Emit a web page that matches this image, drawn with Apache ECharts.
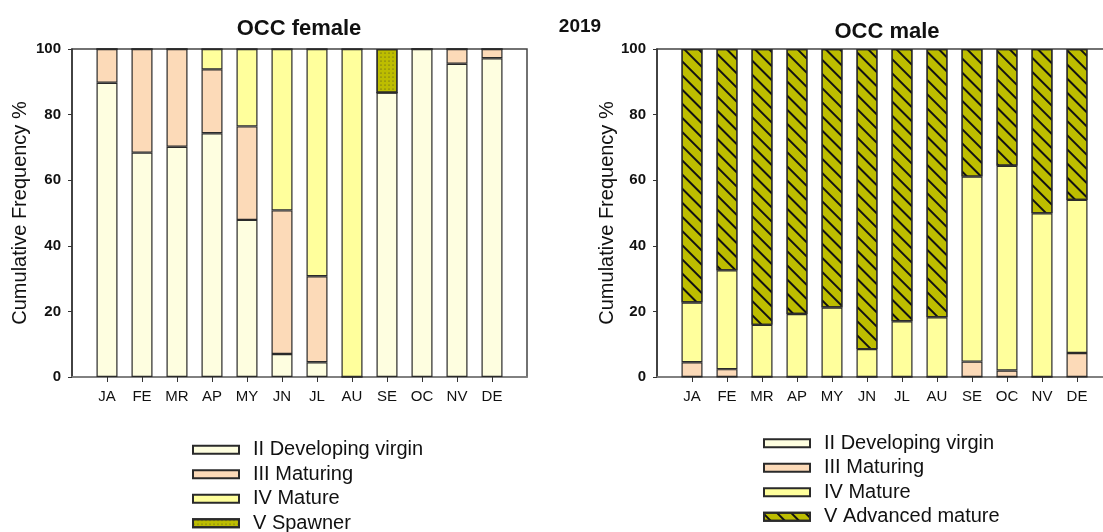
<!DOCTYPE html>
<html lang="en">
<head>
<meta charset="UTF-8">
<title>OCC 2019</title>
<script src="https://cdn.jsdelivr.net/npm/echarts@6/dist/echarts.min.js"></script>
<style>
  html, body { margin: 0; padding: 0; background: #fff; overflow: hidden; }
  #main { width: 1116px; height: 532px; }
</style>
</head>
<body>
<div id="main"></div>
<script>
// months on the x axis
const months = ['JA', 'FE', 'MR', 'AP', 'MY', 'JN', 'JL', 'AU', 'SE', 'OC', 'NV', 'DE'];
const yTicks = [0, 20, 40, 60, 80, 100];

// OCC female, % per stage
const femaleVirgin   = [89.7, 68.4, 70.2, 74.3, 47.9, 7.0, 4.5, 0, 86.7, 100, 95.5, 97.2];
const femaleMaturing = [10.3, 31.6, 29.8, 19.5, 28.5, 43.8, 26.2, 0, 0, 0, 4.5, 2.8];
const femaleMature   = [0, 0, 0, 6.2, 23.6, 49.2, 69.3, 100, 0, 0, 0, 0];
const femaleSpawner  = [0, 0, 0, 0, 0, 0, 0, 0, 13.3, 0, 0, 0];

// OCC male, % per stage
const maleVirgin   = [0, 0, 0, 0, 0, 0, 0, 0, 0, 0, 0, 0];
const maleMaturing = [4.5, 2.4, 0, 0, 0, 0, 0, 0, 4.7, 2.0, 0, 7.3];
const maleMature   = [18.2, 30.1, 15.9, 19.2, 21.2, 8.5, 17.0, 18.2, 56.4, 62.4, 49.9, 46.7];
const maleAdvanced = [77.3, 67.5, 84.1, 80.8, 78.8, 91.5, 83.0, 81.8, 38.9, 35.6, 50.1, 46.0];

const FONT = 'Liberation Sans, Arial, sans-serif';
const C_VIRGIN = '#fefee0', C_MATURING = '#fcdab8', C_MATURE = '#ffff9c', C_OLIVE = '#bdbd00';

// one empty slot at each end so the bars sit like in the original
const pad = a => [null].concat(a, [null]);
const cats = [''].concat(months, ['']);

const hatch = { symbol: 'rect', color: '#111', dashArrayX: [1, 0], dashArrayY: [1.2, 7.5], rotation: Math.PI / 4 };
const dots = { symbol: 'circle', color: '#333', symbolSize: 0.5, dashArrayX: [2, 2], dashArrayY: [2, 2] };

function bar(name, data, color, idx, stack, decal) {
  return {
    name: name, type: 'bar', stack: stack, xAxisIndex: idx, yAxisIndex: idx,
    data: pad(data), barWidth: 21, animation: false,
    itemStyle: { color: color, borderColor: '#2a2a2a', borderWidth: 1.2, decal: decal }
  };
}

function xAx(i) {
  return {
    type: 'category', gridIndex: i, data: cats, boundaryGap: false,
    axisLine: { lineStyle: { color: '#888', width: 1.5 } },
    axisTick: { length: 5, interval: (n, v) => v !== '', lineStyle: { color: '#333' } },
    axisLabel: { color: '#111', fontFamily: FONT, fontSize: 15, margin: 12, interval: 0 },
    splitLine: { show: false }
  };
}
function yAx(i, gap) {
  return {
    type: 'value', gridIndex: i, min: yTicks[0], max: yTicks[yTicks.length - 1], interval: 20,
    name: 'Cumulative Frequency %', nameLocation: 'middle', nameGap: gap,
    nameTextStyle: { fontFamily: FONT, fontSize: 20, color: '#111' },
    axisLine: { show: true, lineStyle: { color: '#333', width: 1.5 } },
    axisTick: { show: true, length: 4, lineStyle: { color: '#333' } },
    axisLabel: { color: '#111', fontFamily: FONT, fontSize: 15, fontWeight: 'bold', margin: 11 },
    splitLine: { show: false }
  };
}

function legendAt(left, top, names) {
  return {
    orient: 'vertical', left: left, top: top, height: 120, padding: 0,
    itemWidth: 46, itemHeight: 8, itemGap: 3.2, icon: 'rect', data: names,
    textStyle: { fontFamily: FONT, fontSize: 20, color: '#111', lineHeight: 21.3, padding: [0, 0, 0, 9] }
  };
}

const chart = echarts.init(document.getElementById('main'), null, { renderer: 'canvas' });
chart.setOption({
  animation: false,
  title: [
    { text: 'OCC female', left: 294, top: 13, textAlign: 'center',
      textStyle: { fontFamily: FONT, fontSize: 22, fontWeight: 'bold', color: '#111' } },
    { text: '2019', left: 575, top: 12, textAlign: 'center',
      textStyle: { fontFamily: FONT, fontSize: 19, fontWeight: 'bold', color: '#111' } },
    { text: 'OCC male', left: 882, top: 16, textAlign: 'center',
      textStyle: { fontFamily: FONT, fontSize: 22, fontWeight: 'bold', color: '#111' } }
  ],
  grid: [
    { left: 72, top: 49, width: 455, height: 328, show: true, borderColor: '#444', borderWidth: 1.5, backgroundColor: 'transparent' },
    { left: 657, top: 49, width: 455, height: 328, show: true, borderColor: '#444', borderWidth: 1.5, backgroundColor: 'transparent' }
  ],
  xAxis: [xAx(0), xAx(1)],
  yAxis: [yAx(0, 42), yAx(1, 40)],
  legend: [
    legendAt(192, 439, ['II Developing virgin', 'III Maturing', 'IV Mature', 'V Spawner']),
    legendAt(763, 432.5, ['II Developing virgin', 'III Maturing', 'IV Mature', 'V Advanced mature'])
  ],
  series: [
    bar('II Developing virgin', femaleVirgin, C_VIRGIN, 0, 'f'),
    bar('III Maturing', femaleMaturing, C_MATURING, 0, 'f'),
    bar('IV Mature', femaleMature, C_MATURE, 0, 'f'),
    bar('V Spawner', femaleSpawner, C_OLIVE, 0, 'f', dots),
    bar('II Developing virgin', maleVirgin, C_VIRGIN, 1, 'm'),
    bar('III Maturing', maleMaturing, C_MATURING, 1, 'm'),
    bar('IV Mature', maleMature, C_MATURE, 1, 'm'),
    bar('V Advanced mature', maleAdvanced, C_OLIVE, 1, 'm', hatch)
  ]
});
</script>
</body>
</html>
